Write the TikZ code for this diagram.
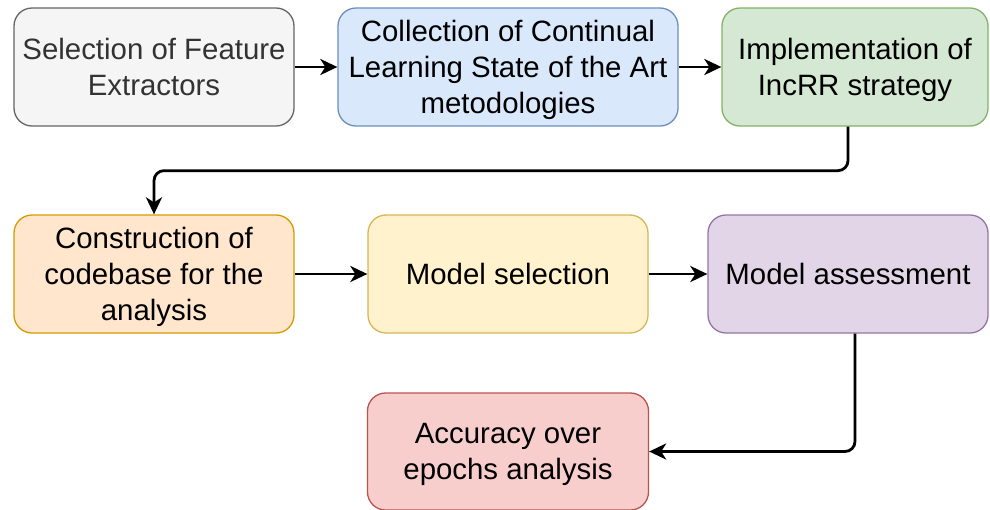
\documentclass[tikz,border=0pt]{standalone}
\usepackage{fontspec}
\setmainfont{Liberation Sans}
\usetikzlibrary{arrows.meta}
\definecolor{grayF}{HTML}{F5F5F5}\definecolor{grayD}{HTML}{666666}\definecolor{grayT}{HTML}{333333}
\definecolor{blueF}{HTML}{DAE8FC}\definecolor{blueD}{HTML}{6C8EBF}
\definecolor{greenF}{HTML}{D5E8D4}\definecolor{greenD}{HTML}{82B366}
\definecolor{orangeF}{HTML}{FFE6CC}\definecolor{orangeD}{HTML}{D79B00}
\definecolor{yellowF}{HTML}{FFF2CC}\definecolor{yellowD}{HTML}{D6B656}
\definecolor{purpleF}{HTML}{E1D5E7}\definecolor{purpleD}{HTML}{9673A6}
\definecolor{redF}{HTML}{F8CECC}\definecolor{redD}{HTML}{B85450}
\newcommand\myLs{\rule{0pt}{28.2pt}}
\newcommand\myLe{\rule[-7.8pt]{0pt}{7.8pt}}
\begin{document}
\begin{tikzpicture}[x=1pt,y=-1pt,
  box/.style={draw, line width=1.3pt, rounded corners=18pt, align=center,
    minimum height=118pt, inner sep=0pt,
    font=\fontsize{29.4}{36}\selectfont},
  arr/.style={line width=2.8pt, rounded corners=10pt,
    -{Stealth[length=17pt,width=16pt,inset=5pt]}}]
\useasboundingbox (0,0) rectangle (990,509);
\node[box, fill=grayF, draw=grayD, text=grayT, minimum width=280pt] (a) at (154,67) {\myLs Selection of Feature\\Extractors\myLe};
\node[box, fill=blueF, draw=blueD, minimum width=340pt] (b) at (508,67) {\myLs Collection of Continual\\Learning State of the Art\\metodologies\myLe};
\node[box, fill=greenF, draw=greenD, minimum width=266pt] (c) at (855,67) {\myLs Implementation of\\IncRR strategy\myLe};
\node[box, fill=orangeF, draw=orangeD, minimum width=280pt] (d) at (154,274) {\myLs Construction of\\codebase for the\\analysis\myLe};
\node[box, fill=yellowF, draw=yellowD, minimum width=280pt] (e) at (508,274) {\myLs Model selection\myLe};
\node[box, fill=purpleF, draw=purpleD, minimum width=280pt] (f) at (848,274) {\myLs Model assessment\myLe};
\node[box, fill=redF, draw=redD, minimum width=281pt, minimum height=117pt] (g) at (508,451.5) {\myLs Accuracy over\\epochs analysis\myLe};
\draw[arr] (a) -- (b);
\draw[arr] (b) -- (c);
\draw[arr] ([xshift=-7pt]c.south) -- ++(0,44) -| (d.north);
\draw[arr] (d) -- (e);
\draw[arr] (e) -- (f);
\draw[arr] ([xshift=7pt]f.south) |- (g.east);
\end{tikzpicture}
\end{document}
